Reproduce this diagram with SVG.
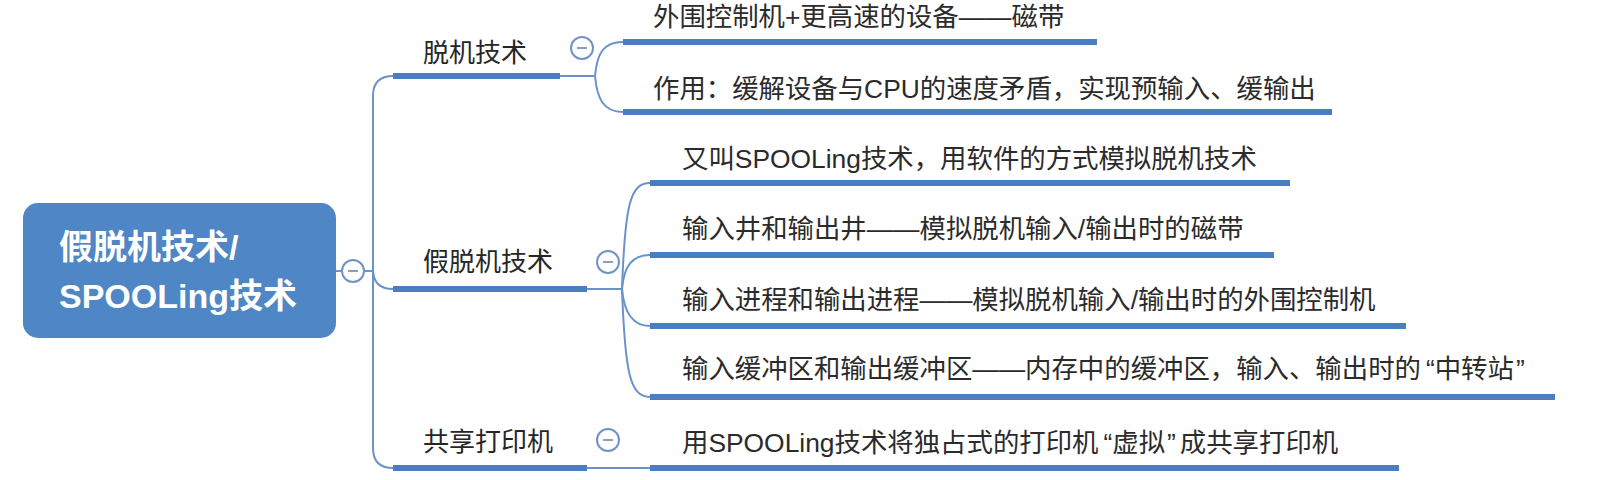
<svg xmlns="http://www.w3.org/2000/svg" width="1607" height="480" viewBox="0 0 1607 480">
<style>
.bg{fill:#ffffff}
.root{fill:#4f86c6}
.rt{font-family:'Liberation Sans','Noto Sans CJK SC',sans-serif;font-size:34px;font-weight:bold;fill:#ffffff}
.t1{font-family:'Liberation Sans','Noto Sans CJK SC',sans-serif;font-size:26px;fill:#262626}
.t2{font-family:'Liberation Sans','Noto Sans CJK SC',sans-serif;font-size:26.4px;fill:#2b2b2b}
.ul{stroke:#4a7ec2;stroke-width:6;stroke-linecap:butt;fill:none}
.cn{stroke:#6a93cb;stroke-width:2;fill:none}
.tg{fill:#ffffff;stroke:#6f93c6;stroke-width:2}
.mi{stroke:#8aa0bf;stroke-width:2}
</style>
<rect class="bg" x="0" y="0" width="1607" height="480"/>
<g id="connectors">
<path class="cn" d="M336,271 L342,271"/>
<path class="cn" d="M364,271 L373,271"/>
<path class="cn" d="M393,76 Q373,76 373,96 L373,448 Q373,468 393,468"/>
<path class="cn" d="M373,269 Q373,289 393,289"/>
<path class="cn" d="M560,76 L595,76"/>
<path class="cn" d="M595,76 C597,54 603,42 623,42"/>
<path class="cn" d="M595,76 C597,98 603,112 623,112"/>
<path class="cn" d="M587,289 L622,289"/>
<path class="cn" d="M622,289 C625,205 630,183 650,183"/>
<path class="cn" d="M622,289 C624,266 632,255 650,255"/>
<path class="cn" d="M622,289 C624,312 632,326 650,326"/>
<path class="cn" d="M622,289 C625,373 630,397 650,397"/>
<path class="cn" d="M587,468 L650,468"/>
</g>
<g id="root">
<rect class="root" x="23" y="203" width="313" height="135" rx="15"/>
<text class="rt" x="59" y="259">假脱机技术/</text>
<text class="rt" x="59" y="308">SPOOLing技术</text>
<circle class="tg" cx="353" cy="271" r="11"/>
<line class="mi" x1="348" y1="271" x2="358" y2="271"/>
</g>
<g id="n-offline">
<text class="t1" x="423" y="62">脱机技术</text>
<line class="ul" x1="393" y1="76" x2="560" y2="76"/>
<circle class="tg" cx="582" cy="48" r="11"/>
<line class="mi" x1="577" y1="48" x2="587" y2="48"/>
</g>
<g id="n-offline-1">
<text class="t2" x="653" y="26">外围控制机+更高速的设备——磁带</text>
<line class="ul" x1="623" y1="42" x2="1097" y2="42"/>
</g>
<g id="n-offline-2">
<text class="t2" x="653" y="98">作用：缓解设备与CPU的速度矛盾，实现预输入、缓输出</text>
<line class="ul" x1="623" y1="112" x2="1332" y2="112"/>
</g>
<g id="n-spool">
<text class="t1" x="423" y="271">假脱机技术</text>
<line class="ul" x1="393" y1="289" x2="587" y2="289"/>
<circle class="tg" cx="608" cy="262" r="11"/>
<line class="mi" x1="603" y1="262" x2="613" y2="262"/>
</g>
<g id="n-spool-1">
<text class="t2" x="682" y="168">又叫SPOOLing技术，用软件的方式模拟脱机技术</text>
<line class="ul" x1="650" y1="183" x2="1290" y2="183"/>
</g>
<g id="n-spool-2">
<text class="t2" x="682" y="238">输入井和输出井——模拟脱机输入/输出时的磁带</text>
<line class="ul" x1="650" y1="255" x2="1274" y2="255"/>
</g>
<g id="n-spool-3">
<text class="t2" x="682" y="309">输入进程和输出进程——模拟脱机输入/输出时的外围控制机</text>
<line class="ul" x1="650" y1="326" x2="1406" y2="326"/>
</g>
<g id="n-spool-4">
<text class="t2" x="682" y="378">输入缓冲区和输出缓冲区——内存中的缓冲区，输入、输出时的<tspan dx="5">“中转站</tspan><tspan dx="2">”</tspan></text>
<line class="ul" x1="650" y1="397" x2="1555" y2="397"/>
</g>
<g id="n-printer">
<text class="t1" x="423" y="451">共享打印机</text>
<line class="ul" x1="393" y1="468" x2="587" y2="468"/>
<circle class="tg" cx="608" cy="440" r="11"/>
<line class="mi" x1="603" y1="440" x2="613" y2="440"/>
</g>
<g id="n-printer-1">
<text class="t2" x="682" y="452">用SPOOLing技术将独占式的打印机<tspan dx="5">“虚拟</tspan><tspan dx="2">”</tspan><tspan dx="4">成共享打印机</tspan></text>
<line class="ul" x1="650" y1="468" x2="1399" y2="468"/>
</g>
</svg>
